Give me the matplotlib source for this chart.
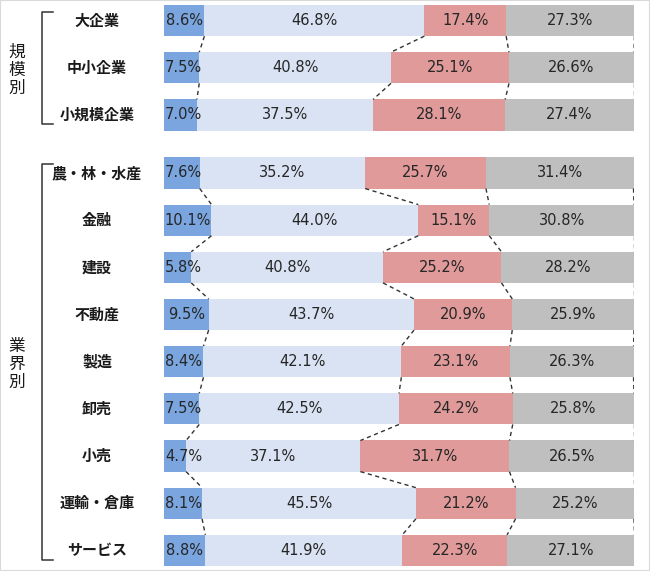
import numpy as np
import matplotlib.pyplot as plt
from matplotlib.patches import Rectangle
from matplotlib.transforms import blended_transform_factory

plt.rcParams['font.family'] = ['Noto Sans CJK JP', 'DejaVu Sans']

# rows (top to bottom)
categories = ['大企業', '中小企業', '小規模企業',
              '農・林・水産', '金融', '建設', '不動産', '製造', '卸売', '小売', '運輸・倉庫', 'サービス']
group_names = ['規模別', '業界別']
group_sizes = [3, 9]

seg1 = [8.6, 7.5, 7.0, 7.6, 10.1, 5.8, 9.5, 8.4, 7.5, 4.7, 8.1, 8.8]
seg2 = [46.8, 40.8, 37.5, 35.2, 44.0, 40.8, 43.7, 42.1, 42.5, 37.1, 45.5, 41.9]
seg3 = [17.4, 25.1, 28.1, 25.7, 15.1, 25.2, 20.9, 23.1, 24.2, 31.7, 21.2, 22.3]
seg4 = [27.3, 26.6, 27.4, 31.4, 30.8, 28.2, 25.9, 26.3, 25.8, 26.5, 25.2, 27.1]

colors = ['#7AA5DE', '#DAE3F3', '#E09A9A', '#BFBFBF']
bar_h = 0.66
group_gap = 0.23

# y positions with an extra gap between groups
ypos = []
start = 0.0
groups_rows = []
for n in group_sizes:
    rows = [start + i for i in range(n)]
    groups_rows.append(rows)
    ypos += rows
    start = rows[-1] + 1 + group_gap
ypos = np.array(ypos)

data = np.array([seg1, seg2, seg3, seg4])
cum = np.cumsum(data, axis=0)
lefts = cum - data

fig = plt.figure(figsize=(6.5, 5.71), dpi=100)
ax = fig.add_axes([164 / 650, 1 - 566 / 571, 470 / 650, 561 / 571])

for k in range(4):
    ax.barh(ypos, data[k], left=lefts[k], height=bar_h, color=colors[k], edgecolor='none')
    for y, v, l in zip(ypos, data[k], lefts[k]):
        xt = l + v / 2
        if k == 0:
            # keep the narrow first label inside the left edge
            xt = max(xt, 4.15)
        ax.text(xt, y, f'{v:.1f}%', ha='center', va='center',
                fontsize=10.5, color='#262626', family='DejaVu Sans')

# dashed connectors between consecutive bars within a group
for rows in groups_rows:
    idx = [list(ypos).index(r) for r in rows]
    for a, b in zip(idx[:-1], idx[1:]):
        for k in range(4):
            ax.plot([cum[k][a], cum[k][b]], [ypos[a] + bar_h / 2, ypos[b] - bar_h / 2],
                    color='#333333', lw=1.0, ls=(0, (3, 2.5)))

ax.set_xlim(0, 100)
ax.set_ylim(ypos[-1] + bar_h / 2, ypos[0] - bar_h / 2)
ax.axis('off')

# row labels and group brackets
tr = blended_transform_factory(fig.transFigure, ax.transData)
for y, name in zip(ypos, categories):
    ax.text(97 / 650, y, name, transform=tr, ha='center', va='center',
            fontsize=10.8, fontweight='bold', color='#1a1a1a')

for rows, gname in zip(groups_rows, group_names):
    top, bot = rows[0] - 0.18, rows[-1] + 0.2
    x0, x1 = 42 / 650, 53 / 650
    ax.plot([x1, x0, x0, x1], [top, top, bot, bot], transform=tr,
            color='#333333', lw=1.1, clip_on=False)
    ax.text(17 / 650, (top + bot) / 2 + 0.05, '\n'.join(gname), transform=tr,
            ha='center', va='center', fontsize=12, linespacing=1.1, color='#1a1a1a')

# light frame around the picture
fig.patches.append(Rectangle((0, 0), 1, 1, transform=fig.transFigure, fill=False,
                             edgecolor='#D9D9D9', lw=1.5))

plt.savefig('out.png', dpi=100)
